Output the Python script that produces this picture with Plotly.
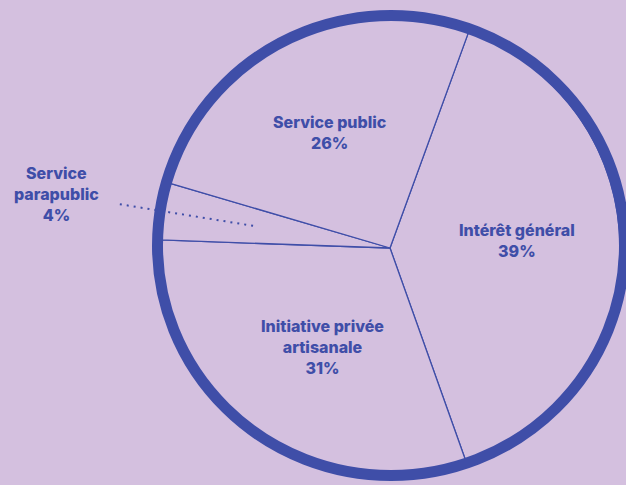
import math
import plotly.graph_objects as go

# Répartition des structures
categories = ["Intérêt général", "Initiative privée<br>artisanale", "Service<br>parapublic", "Service public"]
shares = [39, 31, 4, 26]

BG = "#D4C0DF"
BLUE = "#3F4EA8"
W, H = 626, 485

# pie geometry in pixels
CX, CY, R = 390, 248, 230
ROTATION = 20

def paper(px, py):
    return px / W, 1 - py / H

def polar(angle_deg, r):
    a = math.radians(angle_deg)
    return CX + r * math.sin(a), CY - r * math.cos(a)

total = sum(shares)
mid_angles = []
acc = 0
for v in shares:
    mid_angles.append(ROTATION + 360 * (acc + v / 2) / total)
    acc += v

x0, y1 = paper(CX - R, CY - R)
x1, y0 = paper(CX + R, CY + R)

fig = go.Figure(go.Pie(
    labels=[c.replace("<br>", " ") for c in categories],
    values=shares,
    sort=False,
    direction="clockwise",
    rotation=ROTATION,
    textinfo="none",
    hoverinfo="skip",
    showlegend=False,
    marker=dict(colors=[BG] * len(shares), line=dict(color=BLUE, width=1.3)),
    domain=dict(x=[x0, x1], y=[y0, y1]),
))

# label placement: radius as a fraction of the pie radius, small angular nudge (deg)
label_r = [0.553, 0.52, 1.47, 0.568]
label_dang = [-3.8, -1.7, 0.0, -0.6]
annotations = []
for cat, v, ang, fr, da in zip(categories, shares, mid_angles, label_r, label_dang):
    px, py = polar(ang + da, fr * R)
    ax, ay = paper(px, py)
    annotations.append(dict(
        x=ax, y=ay, xref="paper", yref="paper",
        xanchor="center", yanchor="middle",
        text=f"{cat}<br>{v}%",
        showarrow=False, align="center",
        font=dict(family="Inter", size=16, color=BLUE, weight=800),
    ))

# dotted leader for the small slice, along its bisector
lead_ang = mid_angles[2]
lx0, ly0 = paper(*polar(lead_ang, 1.19 * R))
lx1, ly1 = paper(*polar(lead_ang, 0.6 * R))
shapes = [
    dict(type="line", xref="paper", yref="paper", x0=lx0, y0=ly0, x1=lx1, y1=ly1,
         line=dict(color=BLUE, width=2, dash="2px,5px")),
]
# thick outer ring
rx0, ry1 = paper(391 - 233.5, 245.5 - 230)
rx1, ry0 = paper(391 + 233.5, 245.5 + 230)
shapes.append(dict(type="circle", xref="paper", yref="paper",
                   x0=rx0, x1=rx1, y0=ry0, y1=ry1,
                   line=dict(color=BLUE, width=11)))

fig.update_layout(
    width=W, height=H,
    margin=dict(l=0, r=0, t=0, b=0),
    paper_bgcolor=BG, plot_bgcolor=BG,
    annotations=annotations,
    shapes=shapes,
)

fig.write_html("out.html")
